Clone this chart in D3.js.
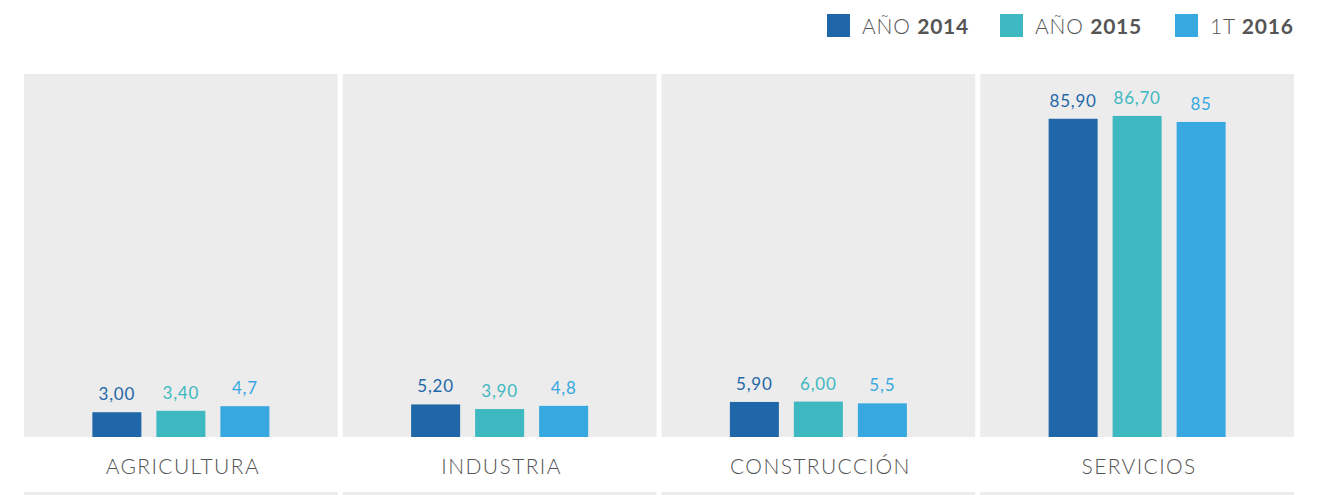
<!DOCTYPE html>
<html>
<head>
<meta charset="utf-8">
<script src="https://cdn.jsdelivr.net/npm/d3@7"></script>
<style>
  body { margin: 0; background: #fff; }
  svg { display: block; font-family: Lato, "Open Sans", sans-serif; }
</style>
</head>
<body>
<svg width="1337" height="495"></svg>
<script>
var svg = d3.select('svg');

// data
var categories = ['AGRICULTURA', 'INDUSTRIA', 'CONSTRUCCIÓN', 'SERVICIOS'];
var seriesKeys = ['2014', '2015', '2016'];
var legendLight = ['AÑO ', 'AÑO ', '1T '];
var legendBold = ['2014', '2015', '2016'];
var values2014 = [3.00, 5.20, 5.90, 85.90];
var values2015 = [3.40, 3.90, 6.00, 86.70];
var values2016 = [4.7, 4.8, 5.5, 85];
var decimals = [2, 2, null];

var colors = ['#1f67a8', '#3eb8c1', '#37a8e0'];
var allValues = [values2014, values2015, values2016];

var panelTop = 74, base = 437;

// panels
var x0 = d3.scaleBand()
    .domain(categories)
    .range([24, 1294])
    .paddingInner(5 / 319);

var x1 = d3.scaleBand()
    .domain(seriesKeys)
    .range([0, 177])
    .paddingInner(1 - 49 / 64);

// bars start a few px above the baseline even near zero
var y = d3.scaleLinear()
    .domain([-4, 90])
    .range([base, base - 3.54 * 94]);

function fmt(v, d) {
    var s = d == null ? String(v) : v.toFixed(d);
    return s.replace('.', ',');
}

var panels = svg.selectAll('g.panel')
    .data(categories)
    .enter()
    .append('g')
    .attr('class', 'panel')
    .attr('transform', function(d) { return 'translate(' + x0(d) + ',0)'; });

panels.append('rect')
    .attr('x', 0)
    .attr('y', panelTop)
    .attr('width', x0.bandwidth())
    .attr('height', base - panelTop)
    .attr('fill', '#ececec');

panels.append('rect')
    .attr('x', 0)
    .attr('y', 492)
    .attr('width', x0.bandwidth())
    .attr('height', 3)
    .attr('fill', '#ececec');

panels.append('text')
    .attr('x', x0.bandwidth() / 2 + 2)
    .attr('y', 474)
    .attr('text-anchor', 'middle')
    .attr('fill', '#555')
    .attr('font-size', '21px')
    .attr('font-weight', 300)
    .attr('letter-spacing', '1.4px')
    .text(function(d) { return d; });

var groupOffset = (x0.bandwidth() - 177) / 2;

panels.each(function(cat, ci) {
    var g = d3.select(this).append('g')
        .attr('transform', 'translate(' + groupOffset + ',0)');
    var rows = seriesKeys.map(function(k, si) {
        return { key: k, i: si, v: allValues[si][ci] };
    });

    g.selectAll('rect')
        .data(rows)
        .enter()
        .append('rect')
        .attr('x', function(d) { return x1(d.key); })
        .attr('y', function(d) { return y(d.v); })
        .attr('width', x1.bandwidth())
        .attr('height', function(d) { return base - y(d.v); })
        .attr('fill', function(d) { return colors[d.i]; });

    g.selectAll('text')
        .data(rows)
        .enter()
        .append('text')
        .attr('x', function(d) { return x1(d.key) + x1.bandwidth() / 2; })
        .attr('y', function(d) { return y(d.v) - 12; })
        .attr('text-anchor', 'middle')
        .attr('font-size', '17px')
        .attr('letter-spacing', '0.8px')
        .attr('fill', function(d) { return colors[d.i]; })
        .text(function(d) { return fmt(d.v, decimals[d.i]); });
});

// legend
var legendX = [827, 1000, 1175];
var legend = svg.selectAll('g.legend')
    .data(seriesKeys)
    .enter()
    .append('g')
    .attr('class', 'legend')
    .attr('transform', function(d, i) { return 'translate(' + legendX[i] + ',14)'; });

legend.append('rect')
    .attr('width', 23)
    .attr('height', 23)
    .attr('fill', function(d, i) { return colors[i]; });

var lt = legend.append('text')
    .attr('x', 35)
    .attr('y', 20)
    .attr('font-size', '21px')
    .attr('letter-spacing', '0.8px')
    .attr('fill', '#555');

lt.append('tspan')
    .attr('font-weight', 300)
    .text(function(d, i) { return legendLight[i]; });

lt.append('tspan')
    .attr('font-weight', 700)
    .text(function(d, i) { return legendBold[i]; });
</script>
</body>
</html>
